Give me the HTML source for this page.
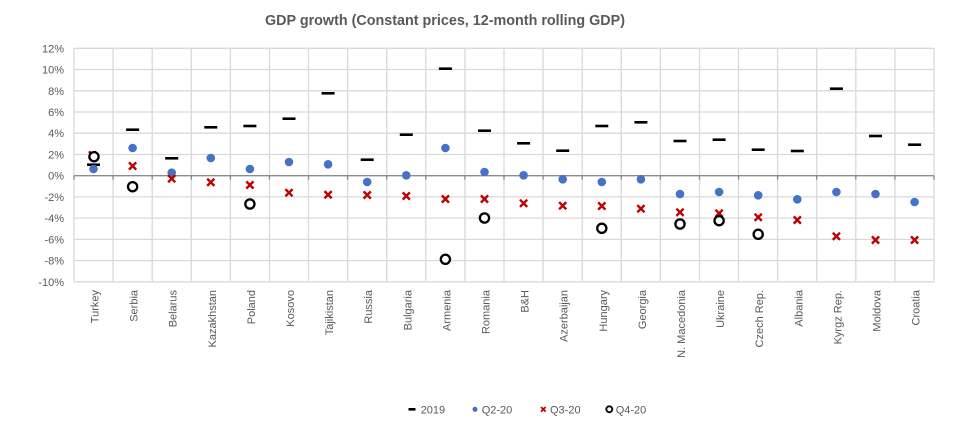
<!DOCTYPE html>
<html>
<head>
<meta charset="utf-8">
<style>
  html,body{margin:0;padding:0;background:#fff;}
  svg{display:block;}
  text{font-family:"Liberation Sans",sans-serif;fill:#595959;}
</style>
</head>
<body>
<svg width="979" height="430" viewBox="0 0 979 430" xmlns="http://www.w3.org/2000/svg">
  <defs>
    <g id="dash"><rect x="-6.5" y="-1.3" width="13" height="2.6" fill="#000"/></g>
    <g id="dot"><circle cx="0" cy="0" r="4.3" fill="#4472C4"/></g>
    <g id="xm"><path d="M-3.6,-3.6 L3.6,3.6 M-3.6,3.6 L3.6,-3.6" stroke="#C00000" stroke-width="2.4" fill="none"/></g>
    <g id="ring"><circle cx="0" cy="0" r="4.6" fill="#fff" stroke="#000" stroke-width="2.3"/></g>
  </defs>

  <!-- Title -->
  <text x="445" y="25" text-anchor="middle" font-size="14.5" font-weight="bold" textLength="360" lengthAdjust="spacingAndGlyphs">GDP growth (Constant prices, 12-month rolling GDP)</text>

  <!-- Horizontal gridlines -->
  <g stroke="#D9D9D9" stroke-width="1.3">
    <line x1="74" y1="48.3" x2="934" y2="48.3"/>
    <line x1="74" y1="69.5" x2="934" y2="69.5"/>
    <line x1="74" y1="90.8" x2="934" y2="90.8"/>
    <line x1="74" y1="112" x2="934" y2="112"/>
    <line x1="74" y1="133.2" x2="934" y2="133.2"/>
    <line x1="74" y1="154.5" x2="934" y2="154.5"/>
    <line x1="74" y1="196.9" x2="934" y2="196.9"/>
    <line x1="74" y1="218.1" x2="934" y2="218.1"/>
    <line x1="74" y1="239.4" x2="934" y2="239.4"/>
    <line x1="74" y1="260.6" x2="934" y2="260.6"/>
    <line x1="74" y1="281.8" x2="934" y2="281.8"/>
  </g>
  <!-- Vertical gridlines -->
  <g stroke="#D9D9D9" stroke-width="1.3">
    <line x1="74" y1="48.3" x2="74" y2="281.8"/>
    <line x1="113.1" y1="48.3" x2="113.1" y2="281.8"/>
    <line x1="152.2" y1="48.3" x2="152.2" y2="281.8"/>
    <line x1="191.3" y1="48.3" x2="191.3" y2="281.8"/>
    <line x1="230.4" y1="48.3" x2="230.4" y2="281.8"/>
    <line x1="269.5" y1="48.3" x2="269.5" y2="281.8"/>
    <line x1="308.5" y1="48.3" x2="308.5" y2="281.8"/>
    <line x1="347.6" y1="48.3" x2="347.6" y2="281.8"/>
    <line x1="386.7" y1="48.3" x2="386.7" y2="281.8"/>
    <line x1="425.8" y1="48.3" x2="425.8" y2="281.8"/>
    <line x1="464.9" y1="48.3" x2="464.9" y2="281.8"/>
    <line x1="504" y1="48.3" x2="504" y2="281.8"/>
    <line x1="543.1" y1="48.3" x2="543.1" y2="281.8"/>
    <line x1="582.2" y1="48.3" x2="582.2" y2="281.8"/>
    <line x1="621.3" y1="48.3" x2="621.3" y2="281.8"/>
    <line x1="660.4" y1="48.3" x2="660.4" y2="281.8"/>
    <line x1="699.5" y1="48.3" x2="699.5" y2="281.8"/>
    <line x1="738.5" y1="48.3" x2="738.5" y2="281.8"/>
    <line x1="777.6" y1="48.3" x2="777.6" y2="281.8"/>
    <line x1="816.7" y1="48.3" x2="816.7" y2="281.8"/>
    <line x1="855.8" y1="48.3" x2="855.8" y2="281.8"/>
    <line x1="894.9" y1="48.3" x2="894.9" y2="281.8"/>
    <line x1="934" y1="48.3" x2="934" y2="281.8"/>
  </g>

  <!-- Zero axis with ticks -->
  <g stroke="#8C8C8C" stroke-width="1.3">
    <line x1="74" y1="175.7" x2="934" y2="175.7"/>
    <path d="M74,175.7v4 M113.1,175.7v4 M152.2,175.7v4 M191.3,175.7v4 M230.4,175.7v4 M269.5,175.7v4 M308.5,175.7v4 M347.6,175.7v4 M386.7,175.7v4 M425.8,175.7v4 M464.9,175.7v4 M504,175.7v4 M543.1,175.7v4 M582.2,175.7v4 M621.3,175.7v4 M660.4,175.7v4 M699.5,175.7v4 M738.5,175.7v4 M777.6,175.7v4 M816.7,175.7v4 M855.8,175.7v4 M894.9,175.7v4 M934,175.7v4"/>
  </g>

  <!-- Y labels -->
  <g font-size="11" text-anchor="end">
    <text x="64" y="52.3">12%</text>
    <text x="64" y="73.5">10%</text>
    <text x="64" y="94.8">8%</text>
    <text x="64" y="116">6%</text>
    <text x="64" y="137.2">4%</text>
    <text x="64" y="158.5">2%</text>
    <text x="64" y="179.7">0%</text>
    <text x="64" y="200.9">-2%</text>
    <text x="64" y="222.1">-4%</text>
    <text x="64" y="243.4">-6%</text>
    <text x="64" y="264.6">-8%</text>
    <text x="64" y="285.8">-10%</text>
  </g>

  <!-- X labels -->
  <g font-size="11" text-anchor="end">
    <text transform="translate(98.5,290) rotate(-90)">Turkey</text>
    <text transform="translate(137.6,290) rotate(-90)">Serbia</text>
    <text transform="translate(176.7,290) rotate(-90)">Belarus</text>
    <text transform="translate(215.8,290) rotate(-90)">Kazakhstan</text>
    <text transform="translate(254.9,290) rotate(-90)">Poland</text>
    <text transform="translate(294,290) rotate(-90)">Kosovo</text>
    <text transform="translate(333.1,290) rotate(-90)">Tajikistan</text>
    <text transform="translate(372.2,290) rotate(-90)">Russia</text>
    <text transform="translate(411.3,290) rotate(-90)">Bulgaria</text>
    <text transform="translate(450.4,290) rotate(-90)">Armenia</text>
    <text transform="translate(489.5,290) rotate(-90)">Romania</text>
    <text transform="translate(528.6,290) rotate(-90)">B&amp;H</text>
    <text transform="translate(567.7,290) rotate(-90)">Azerbaijan</text>
    <text transform="translate(606.8,290) rotate(-90)">Hungary</text>
    <text transform="translate(645.9,290) rotate(-90)">Georgia</text>
    <text transform="translate(685,290) rotate(-90)">N. Macedonia</text>
    <text transform="translate(724.1,290) rotate(-90)">Ukraine</text>
    <text transform="translate(763.2,290) rotate(-90)">Czech Rep.</text>
    <text transform="translate(802.3,290) rotate(-90)">Albania</text>
    <text transform="translate(841.4,290) rotate(-90)">Kyrgz Rep.</text>
    <text transform="translate(880.5,290) rotate(-90)">Moldova</text>
    <text transform="translate(919.6,290) rotate(-90)">Croatia</text>
  </g>

  <!-- Series 2019 -->
  <use href="#dash" x="93.5" y="164.7"/>
  <use href="#dash" x="132.6" y="129.7"/>
  <use href="#dash" x="171.7" y="158.3"/>
  <use href="#dash" x="210.8" y="127.3"/>
  <use href="#dash" x="249.9" y="126"/>
  <use href="#dash" x="289" y="118.7"/>
  <use href="#dash" x="328.1" y="93.3"/>
  <use href="#dash" x="367.2" y="159.7"/>
  <use href="#dash" x="406.3" y="134.7"/>
  <use href="#dash" x="445.4" y="68.7"/>
  <use href="#dash" x="484.5" y="130.7"/>
  <use href="#dash" x="523.6" y="143.3"/>
  <use href="#dash" x="562.7" y="150.7"/>
  <use href="#dash" x="601.8" y="126"/>
  <use href="#dash" x="640.9" y="122.3"/>
  <use href="#dash" x="680" y="141"/>
  <use href="#dash" x="719.1" y="139.7"/>
  <use href="#dash" x="758.2" y="149.7"/>
  <use href="#dash" x="797.3" y="151"/>
  <use href="#dash" x="836.4" y="88.7"/>
  <use href="#dash" x="875.5" y="136"/>
  <use href="#dash" x="914.6" y="144.7"/>

  <!-- Series Q2-20 -->
  <use href="#dot" x="93.5" y="169"/>
  <use href="#dot" x="132.6" y="148"/>
  <use href="#dot" x="171.7" y="172.7"/>
  <use href="#dot" x="210.8" y="158"/>
  <use href="#dot" x="249.9" y="169"/>
  <use href="#dot" x="289" y="162"/>
  <use href="#dot" x="328.1" y="164.3"/>
  <use href="#dot" x="367.2" y="182"/>
  <use href="#dot" x="406.3" y="175.3"/>
  <use href="#dot" x="445.4" y="148"/>
  <use href="#dot" x="484.5" y="172"/>
  <use href="#dot" x="523.6" y="175.3"/>
  <use href="#dot" x="562.7" y="179.3"/>
  <use href="#dot" x="601.8" y="182"/>
  <use href="#dot" x="640.9" y="179.3"/>
  <use href="#dot" x="680" y="194"/>
  <use href="#dot" x="719.1" y="192"/>
  <use href="#dot" x="758.2" y="195.3"/>
  <use href="#dot" x="797.3" y="199.3"/>
  <use href="#dot" x="836.4" y="192"/>
  <use href="#dot" x="875.5" y="194"/>
  <use href="#dot" x="914.6" y="202"/>

  <!-- Series Q3-20 -->
  <use href="#xm" x="92.5" y="155"/>
  <use href="#xm" x="132.6" y="166"/>
  <use href="#xm" x="171.7" y="178.7"/>
  <use href="#xm" x="210.8" y="182.3"/>
  <use href="#xm" x="249.9" y="185"/>
  <use href="#xm" x="289" y="192.7"/>
  <use href="#xm" x="328.1" y="194.7"/>
  <use href="#xm" x="367.2" y="195"/>
  <use href="#xm" x="406.3" y="196"/>
  <use href="#xm" x="445.4" y="199"/>
  <use href="#xm" x="484.5" y="199"/>
  <use href="#xm" x="523.6" y="203.3"/>
  <use href="#xm" x="562.7" y="205.7"/>
  <use href="#xm" x="601.8" y="206"/>
  <use href="#xm" x="640.9" y="208.7"/>
  <use href="#xm" x="680" y="212.3"/>
  <use href="#xm" x="719.1" y="213.3"/>
  <use href="#xm" x="758.2" y="217.3"/>
  <use href="#xm" x="797.3" y="220"/>
  <use href="#xm" x="836.4" y="236.3"/>
  <use href="#xm" x="875.5" y="240"/>
  <use href="#xm" x="914.6" y="240"/>

  <!-- Series Q4-20 -->
  <use href="#ring" x="94" y="156.7"/>
  <use href="#ring" x="132.6" y="186.7"/>
  <use href="#ring" x="249.9" y="204"/>
  <use href="#ring" x="445.4" y="259.3"/>
  <use href="#ring" x="484.5" y="218"/>
  <use href="#ring" x="601.8" y="228.3"/>
  <use href="#ring" x="680" y="224"/>
  <use href="#ring" x="719.1" y="220.7"/>
  <use href="#ring" x="758.2" y="234.3"/>

  <!-- Legend -->
  <rect x="408.5" y="408" width="7" height="2.6" fill="#000"/>
  <text x="420.7" y="413.3" font-size="11">2019</text>
  <circle cx="475" cy="409.3" r="2.5" fill="#4472C4"/>
  <text x="481.7" y="413.3" font-size="11">Q2-20</text>
  <path d="M541,407 L545.6,411.6 M541,411.6 L545.6,407" stroke="#C00000" stroke-width="1.8" fill="none"/>
  <text x="550" y="413.3" font-size="11">Q3-20</text>
  <circle cx="609.3" cy="409.3" r="3" fill="#fff" stroke="#000" stroke-width="1.8"/>
  <text x="615.7" y="413.3" font-size="11">Q4-20</text>
</svg>
</body>
</html>
